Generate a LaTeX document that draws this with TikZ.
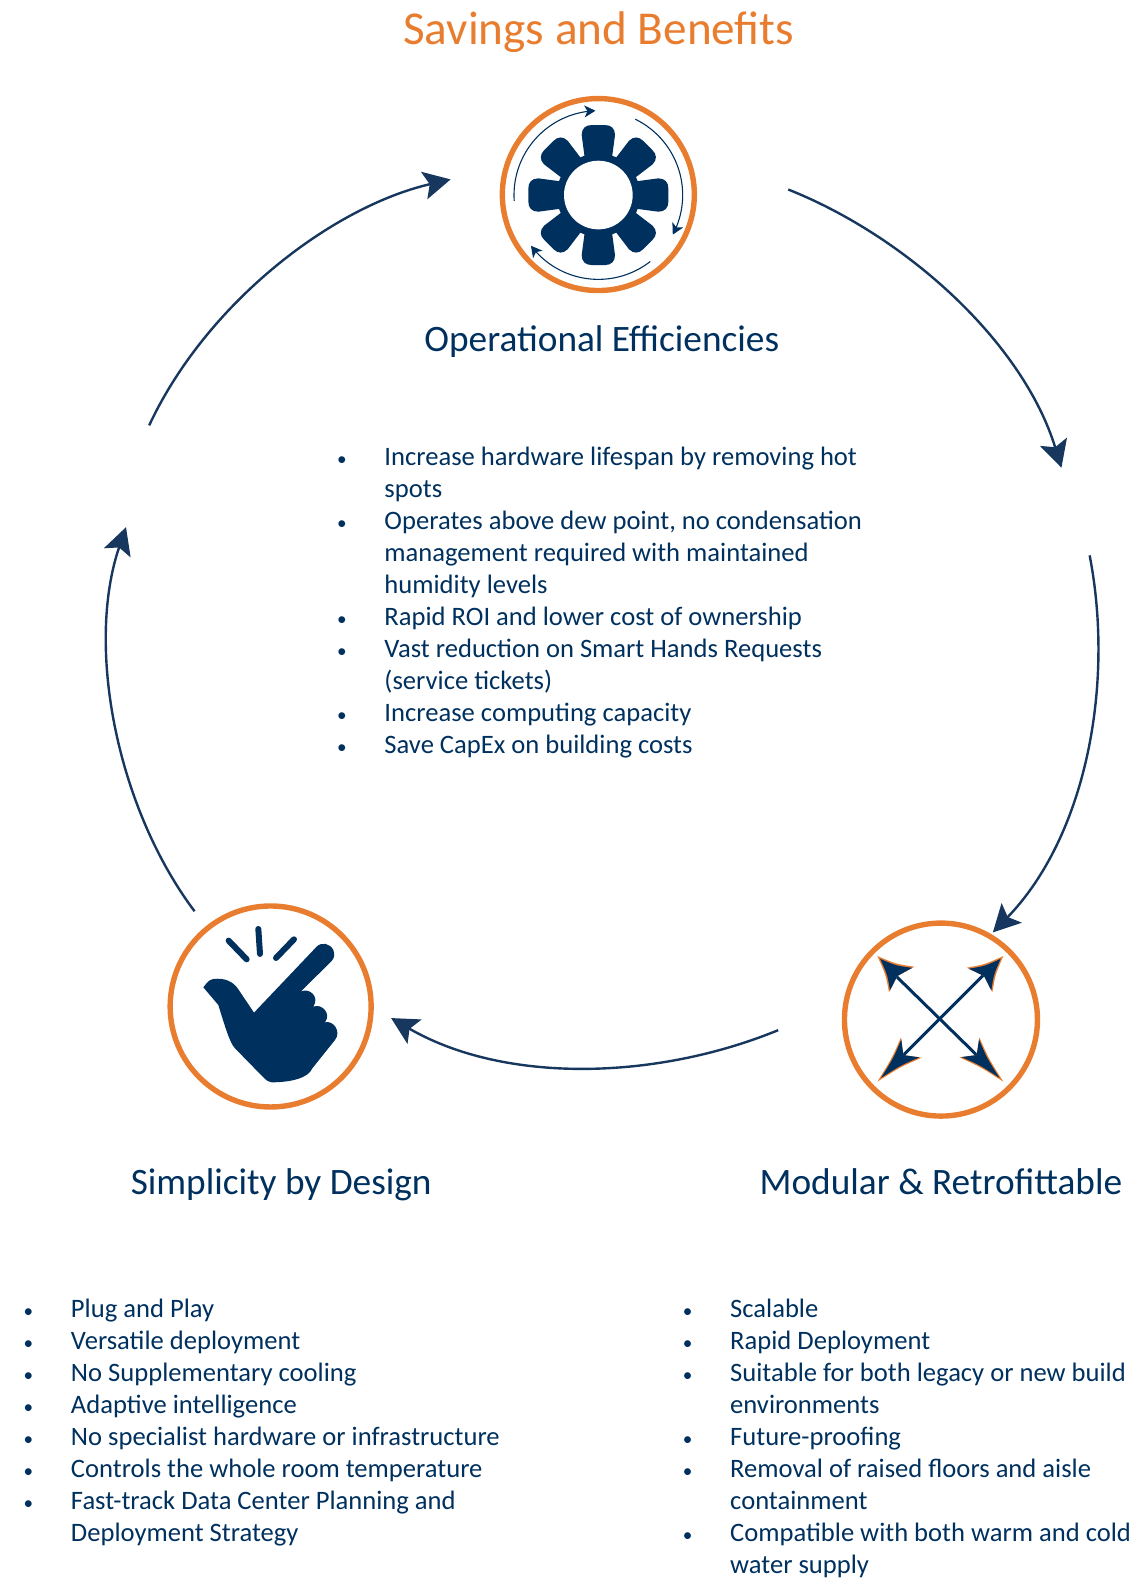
\documentclass[tikz,border=0pt]{standalone}
\usepackage{fontspec}
\usepackage{graphicx}
\setmainfont{Carlito}
\usetikzlibrary{arrows.meta,calc}
\definecolor{navy}{HTML}{00305E}
\definecolor{arcnavy}{HTML}{17375E}
\definecolor{ringor}{HTML}{E97D2F}
\newcommand{\xhead}[4]{%
  \fill[ringor] (#1) .. controls ($(#1)!0.5!(#2)!0.18!(#3)$) .. (#2) -- (#3) -- (#4) .. controls ($(#1)!0.5!(#4)!0.18!(#3)$) .. cycle;
  \fill[navy] ($(#1)!0.14!(#3)$) .. controls ($(#1)!0.5!(#2)!0.3!(#3)$) .. ($(#2)!0.12!(#3)$) -- (#3) -- ($(#4)!0.12!(#3)$) .. controls ($(#1)!0.5!(#4)!0.3!(#3)$) .. cycle;
}
\tikzset{
  cyc/.style={arcnavy,line width=1.2pt,-{Stealth[length=13.5pt,width=14pt,inset=2.8pt]}},
  ring/.style={draw=ringor,line width=2.7pt,fill=none,circle,minimum size=#1,inner sep=0pt},
  small/.style={navy,line width=0.55pt,-{Stealth[length=5.5pt,width=6pt,inset=1.5pt]}},
  head/.style={navy,anchor=base,font=\fontsize{18.65}{22}\selectfont},
  blist/.style={navy,align=left,anchor=north west,inner sep=0pt,font=\fontsize{13.3}{16}\selectfont},
}
\newcommand{\bl}{\makebox[23.7pt][l]{\scalebox{0.72}{\textbullet}}}
\newcommand{\nb}{\makebox[23.7pt][l]{}}
\begin{document}
\begin{tikzpicture}[x=0.504pt,y=-0.504pt]
\useasboundingbox (0,0) rectangle (1122,1565.5);

\node[text=ringor,font=\fontsize{23.6}{28}\selectfont] (title) at (594,32) {Savings and Benefits};

% rings
\node[ring=96pt] (gearring) at (593.6,193) {};
\node[ring=100.5pt] (handring) at (268.5,998.5) {};
\node[ring=96.5pt] (xring) at (933.5,1011.5) {};

% gear icon
\begin{scope}[shift={(476.2,79.4)},scale=0.3307]
  \coordinate (g) at (355,345);
  \begin{scope}[shift={(g)}]
    \foreach \a in {0,45,...,315}{
      \fill[navy,rotate=\a] (-40,-105) -- (-50,-180) .. controls (-50,-200) and (-38,-210) .. (-20,-210) -- (20,-210) .. controls (38,-210) and (50,-200) .. (50,-180) -- (40,-105) -- cycle;
    }
    \fill[navy] (0,0) circle[radius=125];
    \fill[white] (0,0) circle[radius=103];
    \draw[small] plot[domain=176:268,samples=40] ({253*cos(\x)},{253*sin(\x)});
    \draw[small] plot[domain=-64:28,samples=40] ({253*cos(\x)},{253*sin(\x)});
    \draw[small] plot[domain=52:143,samples=40] ({253*cos(\x)},{253*sin(\x)});
  \end{scope}
\end{scope}

% hand icon
\begin{scope}[shift={(148.8,873)},scale=0.3307]
  \fill[navy] (160,322) .. controls (170,310) and (175,300) .. (190,297)
    .. controls (225,293) and (250,305) .. (265,328)
    -- (312,398) -- (500,200)
    .. controls (515,185) and (540,190) .. (550,210)
    .. controls (556,225) and (552,235) .. (545,243)
    -- (452,335)
    .. controls (478,322) and (510,350) .. (490,380)
    .. controls (515,370) and (545,400) .. (525,427)
    .. controls (550,420) and (575,455) .. (555,480)
    -- (487,565)
    .. controls (475,595) and (420,607) .. (365,607)
    .. controls (355,605) and (350,602) .. (345,597)
    -- (255,505)
    .. controls (240,490) and (225,440) .. (205,375)
    -- cycle;
  \draw[navy,line width=3pt,line cap=round] (236,182) -- (290,238);
  \draw[navy,line width=3pt,line cap=round] (325,147) -- (330,222);
  \draw[navy,line width=3pt,line cap=round] (432,178) -- (378,234);
\end{scope}

% cross arrows icon
\begin{scope}[shift={(813.5,892.9)},scale=0.3307]
  \draw[navy,line width=1.5pt] (230,230) -- (470,465);
  \draw[navy,line width=1.5pt] (490,225) -- (250,465);
  \coordinate (t1) at (172,168); \coordinate (a1) at (283,200); \coordinate (n1) at (232,228); \coordinate (b1) at (207,277);
  \coordinate (t2) at (550,168); \coordinate (a2) at (440,203); \coordinate (n2) at (492,228); \coordinate (b2) at (517,277);
  \coordinate (t3) at (172,545); \coordinate (a3) at (243,412); \coordinate (n3) at (250,465); \coordinate (b3) at (305,473);
  \coordinate (t4) at (550,545); \coordinate (a4) at (478,412); \coordinate (n4) at (470,465); \coordinate (b4) at (418,472);
  \xhead{t1}{a1}{n1}{b1}
  \xhead{t2}{a2}{n2}{b2}
  \xhead{t3}{a3}{n3}{b3}
  \xhead{t4}{a4}{n4}{b4}
\end{scope}

% cycle connectors
\coordinate (c1s) at (782,188); \coordinate (c1e) at (1053,464);
\coordinate (c2s) at (1081,551); \coordinate (c2e) at (985,925);
\coordinate (c3s) at (772,1022); \coordinate (c3e) at (388,1010);
\coordinate (c4s) at (193,904); \coordinate (c4e) at (125,523);
\coordinate (c5s) at (148,422); \coordinate (c5e) at (447,178);
\draw[cyc] (c1s) .. controls (900,235) and (1015,340) .. (c1e);
\draw[cyc] (c2s) .. controls (1106,680) and (1077,830) .. (c2e);
\draw[cyc] (c3s) .. controls (650,1072) and (500,1075) .. (c3e);
\draw[cyc] (c4s) .. controls (115,800) and (85,640) .. (c4e);
\draw[cyc] (c5s) .. controls (205,300) and (330,205) .. (c5e);

% headings
\node[head] (h1) at (597,349) {Operational Efficiencies};
\node[head] (h2) at (279,1185) {Simplicity by Design};
\node[head] (h3) at (933.5,1185) {Modular \& Retrofittable};

% lists
\node[blist] (l1) at (334,443) {%
\bl Increase hardware lifespan by removing hot\\
\nb spots\\
\bl Operates above dew point, no condensation\\
\nb management required with maintained\\
\nb humidity levels\\
\bl Rapid ROI and lower cost of ownership\\
\bl Vast reduction on Smart Hands Requests\\
\nb (service tickets)\\
\bl Increase computing capacity\\
\bl Save CapEx on building costs};

\node[blist] (l2) at (23,1288) {%
\bl Plug and Play\\
\bl Versatile deployment\\
\bl No Supplementary cooling\\
\bl Adaptive intelligence\\
\bl No specialist hardware or infrastructure\\
\bl Controls the whole room temperature\\
\bl Fast-track Data Center Planning and\\
\nb Deployment Strategy};

\node[blist] (l3) at (677,1288) {%
\bl Scalable\\
\bl Rapid Deployment\\
\bl Suitable for both legacy or new build\\
\nb environments\\
\bl Future-proofing\\
\bl Removal of raised floors and aisle\\
\nb containment\\
\bl Compatible with both warm and cold\\
\nb water supply};
\end{tikzpicture}
\end{document}
